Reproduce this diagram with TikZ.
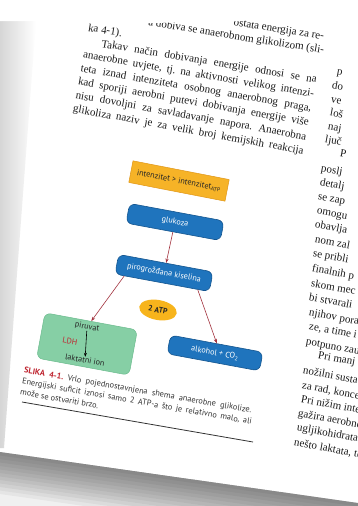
\documentclass[tikz,border=0pt]{standalone}
\usepackage{fontspec}
\setmainfont{Liberation Serif}
\newfontfamily\capfont{PT Sans}
\usetikzlibrary{calc,arrows.meta,shapes.geometric}
\definecolor{boxblue}{HTML}{1F74BD}
\definecolor{boxblueline}{HTML}{14558F}
\definecolor{boxorange}{HTML}{F6B327}
\definecolor{boxorangeline}{HTML}{E09618}
\definecolor{atporange}{HTML}{F7B41C}
\definecolor{boxgreen}{HTML}{86CFA5}
\definecolor{boxgreenline}{HTML}{6BBB8D}
\definecolor{arrred}{HTML}{A3333F}
\definecolor{capred}{HTML}{BF2530}
\definecolor{inkgray}{HTML}{1A1A1A}
\definecolor{capgray}{HTML}{333333}
\newcommand\jline[1]{\makebox[234pt][s]{\strut #1}}
\newcommand\capline[1]{\makebox[233pt][s]{\strut #1}}
\newcommand\wsp{\hskip 0.24em plus 1fil\relax}
\begin{document}
\frenchspacing
\begin{tikzpicture}[x=1pt,y=-1pt,
  bodyl/.style={anchor=west, inner sep=0pt, text=inkgray, font=\fontsize{11}{12.5}\selectfont},
  bodyr/.style={bodyl, anchor=east},
  capl/.style={anchor=west, inner sep=0pt, text=capgray, font=\capfont\fontsize{8.3}{9}\selectfont},
  diag/.style={inner sep=0pt, font=\capfont\fontsize{8.2}{9.5}\selectfont, rotate=-10.5},
  orangebox/.style={diag, fill=boxorange, draw=boxorangeline, line width=0.5pt, minimum width=98pt, minimum height=22pt, text=black!85},
  bluebox/.style={diag, fill=boxblue, draw=boxblueline, line width=0.6pt, rounded corners=6pt, minimum width=96pt, minimum height=20pt, text=white},
  atpell/.style={diag, ellipse, fill=atporange, minimum width=38pt, minimum height=20pt, text=black!85, font=\capfont\bfseries\fontsize{7.8}{9}\selectfont},
  greenbox/.style={diag, fill=boxgreen, draw=boxgreenline, line width=0.5pt, rounded corners=6pt, minimum width=94pt, minimum height=46pt},
  intext/.style={diag, text=black!85},
  arr/.style={draw=arrred, line width=0.6pt, -{Stealth[length=4.5pt,width=3.2pt]}},
  blkarr/.style={draw=black, line width=0.6pt, -{Stealth[length=4pt,width=3pt]}}
]
\useasboundingbox (0,0) rectangle (358,506);
\clip (0,0) rectangle (358,506);
\fill[white] (0,0) rectangle (358,506);

% left edge of the page
\shade[left color=black!16, right color=white] (0,20) -- (36,20) -- (4,448) -- (0,448) -- cycle;

% ---- left column text ----
\node[bodyr, rotate=-8.8] (lm2) at (324,37) {\strut ostata energija za re-};
\node[bodyr, rotate=-9.0] (lm1) at (324,51) {\strut a dobiva se anaerobnom glikolizom (sli-};
\fill[white] (0,0) -- (358,0) -- (358,13) -- (300,17.5) -- (230,21.5) -- (150,23) -- (120,21.5) -- (0,21) -- cycle;
\node[bodyl, rotate=-9.2] (l0) at (88,28.5) {\strut ka 4-1).};
\node[bodyl, rotate=-9.4] (l1) at (85.5,42) {\jline{\hspace*{16pt}Takav način dobivanja energije odnosi se na}};
\node[bodyl, rotate=-9.6] (l2) at (83,55.5) {\jline{anaerobne uvjete, tj. na aktivnosti velikog intenzi-}};
\node[bodyl, rotate=-9.8] (l3) at (80.5,69) {\jline{teta iznad intenziteta osobnog anaerobnog praga,}};
\node[bodyl, rotate=-10] (l4) at (78,82.5) {\jline{kad sporiji aerobni putevi dobivanja energije više}};
\node[bodyl, rotate=-10.2] (l5) at (75.5,96) {\jline{nisu dovoljni za savladavanje napora. Anaerobna}};
\node[bodyl, rotate=-10.4] (l6) at (73,109.5) {\jline{glikoliza naziv je za velik broj kemijskih reakcija}};

% ---- right column fragments ----
\foreach \t/\x/\y [count=\i] in {
  p/337/72, do/332/86, ve/331/100, loš/330/113, naj/328/127, ljuč/325/140,
  P/340/154, poslj/321/169, detalj/320/183, se zap/318/197, omogu/317/211,
  obavlja/315/225, nom zal/315/240, se pribli/313/254, finalnih p/312/269,
  skom mec/311/284, bi stvarali/309/298, njihov pora/309/313, {ze, a time i}/309/327,
  potpuno zau/306/342, Pri manj/318/356, nožilni susta/303/371, {za rad, konce}/302/386,
  Pri nižim inte/301/400, gažira aerobne/298/414, ugljikohidrata/297/428, {nešto laktata, to}/294/443}
  { \node[bodyl, rotate=-10.5] (r\i) at (\x,\y) {\strut \t}; }

% ---- diagram ----
\node[orangebox, rotate=-0.5] (inten) at (179,181) {intenzitet > intenzitet\textsubscript{ATP}};
\node[bluebox] (gluk) at (175,222) {glukoza};
\node[bluebox] (piro) at (164,273) {pirogrožđana kiselina};
\node[atpell] (atp) at (158,310) {2 ATP};
\node[greenbox] (green) at (87,344) {};
\node[bluebox, minimum width=94pt, minimum height=19pt] (alk) at (215,353) {alkohol + CO\textsubscript{2}};
\node[intext] (piru) at (87,327) {piruvat};
\node[intext, text=capred] (ldh) at (70,341) {LDH};
\node[intext] (lakt) at (85,360) {laktatni ion};

\draw[arr] (gluk) -- (piro);
\draw[arr] ($(piro.south west)!0.2!(piro.south)$) -- (green.north);
\draw[arr] ($(piro.south)!0.75!(piro.south east)$) -- (alk.north);
\draw[blkarr] (piru) -- (lakt);

% ---- caption ----
\node[capl, rotate=-10] (c1) at (24,371) {\makebox[233pt][l]{\strut\textcolor{capred}{\bfseries SLIKA\wsp 4-1.}\wsp Vrlo\wsp pojednostavnjena\wsp shema\wsp anaerobne\wsp glikolize.}};
\node[capl, rotate=-10] (c2) at (22,382) {\capline{Energijski suficit iznosi samo 2 ATP-a što je relativno malo, ali}};
\node[capl, rotate=-10] (c3) at (20,393) {\strut može se ostvariti brzo.};
\coordinate (rulea) at (22,402);
\coordinate (ruleb) at (253,442);
\draw[capgray, line width=0.8pt] (rulea) -- (ruleb);

% ---- bottom page edge shadow ----
\coordinate (pe1) at (0,452);
\coordinate (pe2) at (358,503);
\fill[white] (pe1) -- (pe2) -- (358,506) -- (0,506) -- cycle;
\foreach \k in {1,...,12}
  { \fill[black, opacity=0.045] (pe1) -- (pe2) -- (358,{503+3.5*\k}) -- (0,{452+3.5*\k}) -- cycle; }
\fill[black, opacity=0.06] (pe1) -- (pe2) -- (358,506) -- (0,506) -- cycle;
\end{tikzpicture}
\end{document}
